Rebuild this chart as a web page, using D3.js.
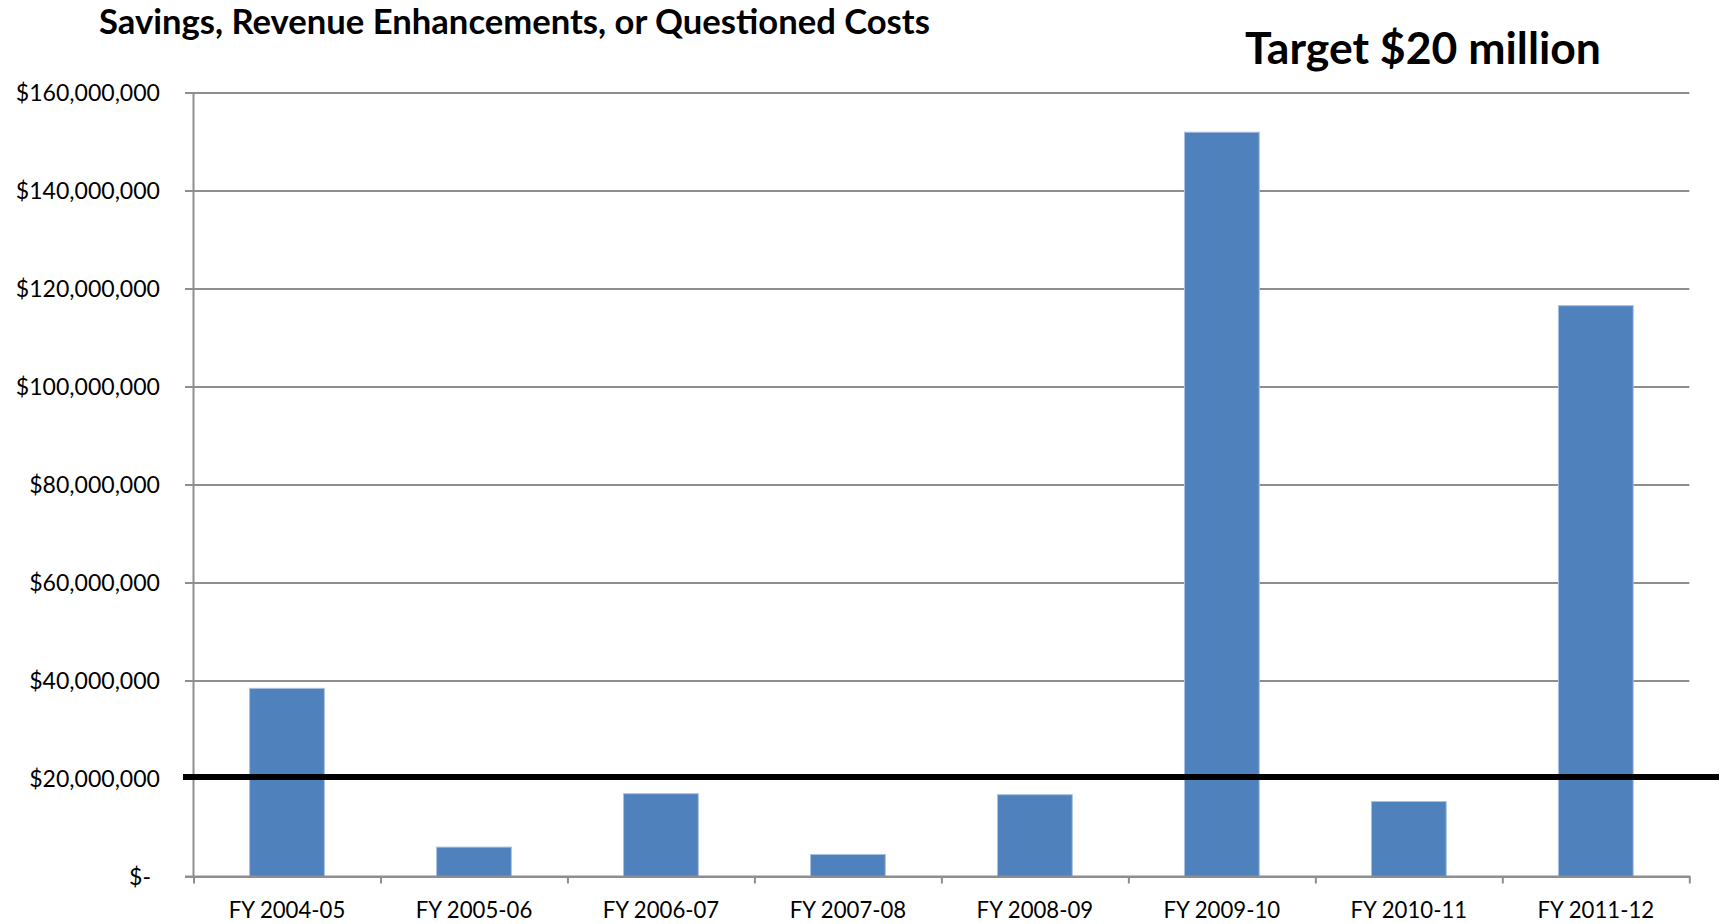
<!DOCTYPE html>
<html>
<head>
<meta charset="utf-8">
<script src="https://cdn.jsdelivr.net/npm/d3@7/dist/d3.min.js"></script>
<style>
  html, body { margin: 0; padding: 0; background: #ffffff; }
  svg { display: block; font-family: Lato, "Open Sans", sans-serif; }
</style>
</head>
<body>
<svg id="chart" width="1724" height="924"></svg>
<script>
// Fiscal years on the category axis
const categories = ["FY 2004-05", "FY 2005-06", "FY 2006-07", "FY 2007-08",
                    "FY 2008-09", "FY 2009-10", "FY 2010-11", "FY 2011-12"];
// Savings, revenue enhancements, or questioned costs per year (dollars)
const amounts = [38400000, 6000000, 16900000, 4500000,
                 16700000, 151900000, 15300000, 116500000];
// Value axis ticks
const yTicks = [0, 20000000, 40000000, 60000000, 80000000,
                100000000, 120000000, 140000000, 160000000];
// Annual goal
const target = 20000000;
const titleText = "Savings, Revenue Enhancements, or Questioned Costs";
const targetText = "Target $20 million";

const svg = d3.select("#chart");
const plot = { left: 193.5, right: 1689.3, top: 92.5, bottom: 876.5 };
const gridColor = "#8e8e8e";

// Scale text so that its natural width equals a given width
function fitWidth(sel, width) {
  const node = sel.node();
  const fs = parseFloat(sel.attr("font-size"));
  const w = node.getComputedTextLength();
  sel.attr("font-size", (fs * width / w).toFixed(2));
}

const y = d3.scaleLinear().domain([0, 160000000]).range([plot.bottom, plot.top]);
const x = d3.scaleBand().domain(categories).range([plot.left, plot.right])
  .paddingInner(0.6).paddingOuter(0.3);
const xEdge = d3.scaleLinear().domain([0, categories.length]).range([plot.left, plot.right]);

const money = d3.format("$,.0f");
const fmt = v => v === 0 ? "$-" : money(v);

// Gridlines with their outer tick marks and labels
const tickOut = 8.5;
const yAxis = svg.append("g")
  .attr("transform", `translate(${plot.left - tickOut},0)`)
  .call(d3.axisLeft(y).tickValues(yTicks).tickFormat(fmt)
    .tickSize(-(plot.right - plot.left + tickOut)).tickPadding(25));
yAxis.select(".domain").remove();
yAxis.selectAll(".tick line").attr("stroke", gridColor).attr("stroke-width", 2);
yAxis.selectAll(".tick text")
  .attr("fill", "#000").attr("font-family", "Lato, sans-serif")
  .attr("font-size", 24).attr("dy", "0.36em");
// size all value labels from the widest one
{
  const widest = yAxis.selectAll(".tick text").filter(d => d === 160000000);
  fitWidth(widest, 144.3);
  const fs = widest.attr("font-size");
  yAxis.selectAll(".tick text").attr("font-size", fs);
  yAxis.selectAll(".tick text").filter(d => d === 0).attr("dx", -9);
}

// Bars
svg.append("g").selectAll("rect")
  .data(categories.map((c, i) => ({ c, v: amounts[i] })))
  .join("rect")
  .attr("x", d => x(d.c))
  .attr("width", x.bandwidth())
  .attr("y", d => y(d.v))
  .attr("height", d => y(0) - y(d.v))
  .attr("fill", "#4f81bd")
  .attr("stroke", "#a9c1e2")
  .attr("stroke-width", 1);

// Category axis: boundary ticks
const xTicks = svg.append("g")
  .attr("transform", `translate(0,${plot.bottom})`)
  .call(d3.axisBottom(xEdge).tickValues(d3.range(categories.length + 1))
    .tickFormat("").tickSize(7).tickSizeOuter(0));
xTicks.select(".domain").remove();
xTicks.selectAll(".tick line").attr("stroke", gridColor).attr("stroke-width", 2);

// Category labels
const xLabels = svg.append("g")
  .attr("transform", `translate(0,${plot.bottom})`)
  .call(d3.axisBottom(x).tickSize(0));
xLabels.select(".domain").remove();
xLabels.selectAll(".tick text")
  .attr("fill", "#000").attr("font-family", "Lato, sans-serif")
  .attr("font-size", 24).attr("y", 41.5).attr("dy", 0);
{
  const first = xLabels.selectAll(".tick text").filter(d => d === categories[0]);
  fitWidth(first, 116.6);
  xLabels.selectAll(".tick text").attr("font-size", first.attr("font-size"));
}

// Axis lines
svg.append("line")
  .attr("x1", plot.left).attr("x2", plot.left)
  .attr("y1", plot.top).attr("y2", plot.bottom)
  .attr("stroke", gridColor).attr("stroke-width", 2);
svg.append("line")
  .attr("x1", plot.left - tickOut).attr("x2", plot.right + 1)
  .attr("y1", plot.bottom).attr("y2", plot.bottom)
  .attr("stroke", gridColor).attr("stroke-width", 2);

// Target line
svg.append("line")
  .attr("x1", 183).attr("x2", 1719)
  .attr("y1", y(target) - 1.5).attr("y2", y(target) - 1.5)
  .attr("stroke", "#000").attr("stroke-width", 6);

// Titles
const title = svg.append("text")
  .attr("x", 99).attr("y", 34)
  .attr("font-family", "Lato, sans-serif").attr("font-weight", 700)
  .attr("font-size", 27).attr("fill", "#000")
  .text(titleText);
fitWidth(title, 831);

const tgt = svg.append("text")
  .attr("x", 1245).attr("y", 64)
  .attr("font-family", "Lato, sans-serif").attr("font-weight", 700)
  .attr("font-size", 34).attr("fill", "#000")
  .text(targetText);
fitWidth(tgt, 356);
</script>
</body>
</html>
